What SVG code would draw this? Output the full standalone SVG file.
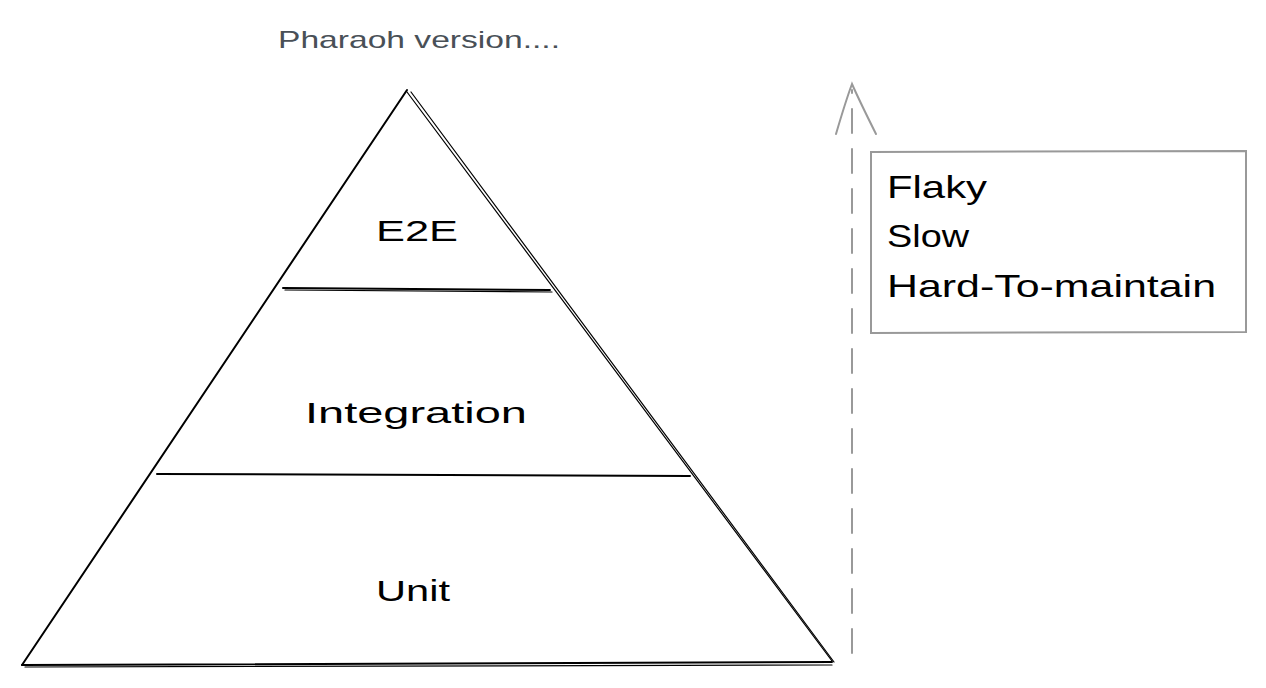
<svg xmlns="http://www.w3.org/2000/svg" width="1266" height="688" viewBox="0 0 1266 688">
<style>
.ln{stroke:#000;stroke-width:2;fill:none;stroke-linecap:round}
.ln2{stroke:#000;stroke-width:1.2;fill:none;stroke-linecap:round}
.lbl{font-family:"Liberation Sans",Arial,sans-serif;fill:#000;text-anchor:middle}
.note{font-family:"Liberation Sans",Arial,sans-serif;fill:#000;font-size:32px}
.gray{stroke:#999;stroke-width:2;fill:none;stroke-linecap:round}
</style>
<rect width="1266" height="688" fill="#fff"/>
<text id="title" x="419" y="48" font-family="Liberation Sans,Arial,sans-serif" font-size="24" fill="#495057" text-anchor="middle" textLength="282" lengthAdjust="spacingAndGlyphs">Pharaoh version....</text>
<g id="pyramid">
<path class="ln" d="M407 90 L22 665"/>
<path class="ln2" d="M407 92 L832 661"/>
<path class="ln2" d="M411 92 L834 662"/>
<path class="ln" d="M22 665 L832 662"/>
<path class="ln2" d="M25 667 L832 665"/>
</g>
<g id="e2e">
<path class="ln" d="M283 288 L550 290"/>
<path class="ln2" d="M285 290 L552 292"/>
<text class="lbl" x="417" y="241" font-size="30" textLength="82" lengthAdjust="spacingAndGlyphs">E2E</text>
</g>
<g id="integration">
<path class="ln" d="M157 474 L690 476"/>
<text class="lbl" x="416" y="423" font-size="30" textLength="222" lengthAdjust="spacingAndGlyphs">Integration</text>
</g>
<g id="unit">
<text class="lbl" x="413" y="601" font-size="30" textLength="74" lengthAdjust="spacingAndGlyphs">Unit</text>
</g>
<g id="connectors">
<path class="gray" d="M852 653 L852 90" stroke-dasharray="24 16" stroke-linecap="butt"/>
<path class="gray" d="M836 134 Q846 100 852 84 Q860 102 876 134"/>
</g>
<g id="issues">
<path class="gray" d="M871 152 L1246 151 L1246 332 L871 333 Z"/>
<text class="note" x="887" y="198" textLength="100" lengthAdjust="spacingAndGlyphs">Flaky</text>
<text class="note" x="887" y="247" textLength="82" lengthAdjust="spacingAndGlyphs">Slow</text>
<text class="note" x="887" y="297" textLength="329" lengthAdjust="spacingAndGlyphs">Hard-To-maintain</text>
</g>
</svg>
